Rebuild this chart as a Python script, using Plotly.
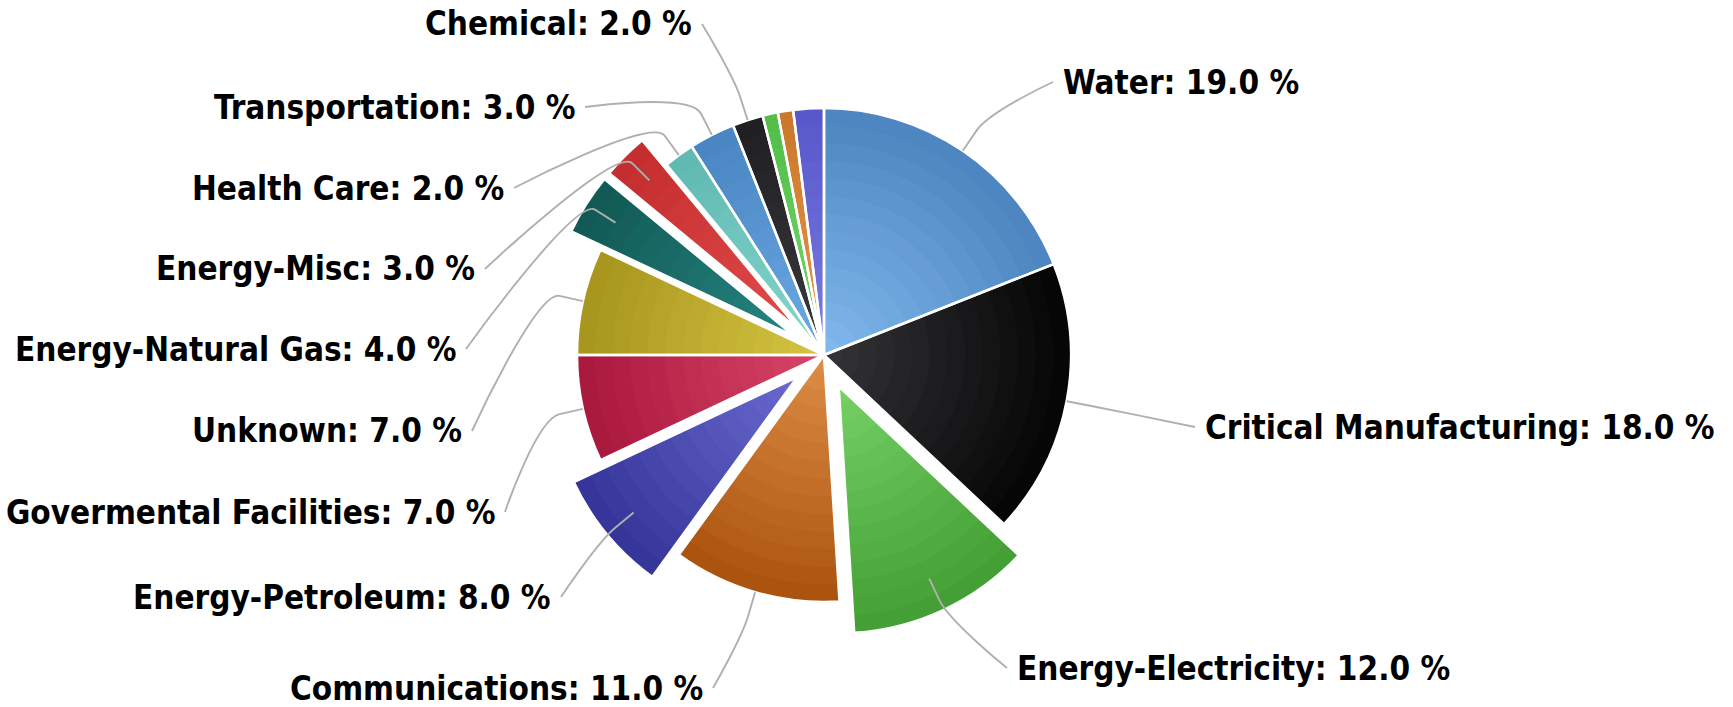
import math
import plotly.graph_objects as go

# ---- data -------------------------------------------------------------
sectors = [
    "Water", "Critical Manufacturing", "Energy-Electricity", "Communications",
    "Energy-Petroleum", "Govermental Facilities", "Unknown", "Energy-Natural Gas",
    "Energy-Misc", "Health Care", "Transportation", "Chemical",
    "Food and Agriculture", "Dams", "Information Technology",
]
shares = [19.0, 18.0, 12.0, 11.0, 8.0, 7.0, 7.0, 4.0, 3.0, 2.0, 3.0, 2.0, 1.0, 1.0, 2.0]
exploded = ["Energy-Electricity", "Energy-Petroleum", "Energy-Natural Gas", "Energy-Misc"]
labelled = sectors[:12]

# ---- styles -----------------------------------------------------------
inner_colors = ["#80b8ec", "#333337", "#74d064", "#dc8c44", "#6868ce", "#d84468",
                "#d4c440", "#248480", "#e04a4a", "#84d6ce", "#6caae4", "#3a3a3e",
                "#74da6c", "#ea9648", "#7a7ae2"]
outer_colors = ["#4d86c0", "#060606", "#44a034", "#ab5410", "#36369a", "#aa1a3e",
                "#a8961e", "#125a56", "#c42e2e", "#60bab2", "#4a86c2", "#202024",
                "#52be48", "#ca782c", "#5858ca"]

W, H = 1733, 707
CX, CY, R = 824, 355, 247          # pie centre and radius in pixels
PULL = 0.14                         # explode distance as a fraction of R
RINGS = 14                          # bands used for the radial shading

# label anchors: (x, y, side) — x is the text end on the left, text start on the right
label_pos = {
    "Water": (1061, 82, "right"),
    "Critical Manufacturing": (1203, 427, "right"),
    "Energy-Electricity": (1015, 668, "right"),
    "Communications": (705, 688, "left"),
    "Energy-Petroleum": (553, 597, "left"),
    "Govermental Facilities": (497, 512, "left"),
    "Unknown": (464, 431, "left"),
    "Energy-Natural Gas": (458, 349, "left"),
    "Energy-Misc": (477, 269, "left"),
    "Health Care": (506, 188, "left"),
    "Transportation": (577, 107, "left"),
    "Chemical": (694, 24, "left"),
}


def mix(c1, c2, t):
    a = [int(c1[i:i + 2], 16) for i in (1, 3, 5)]
    b = [int(c2[i:i + 2], 16) for i in (1, 3, 5)]
    return "#" + "".join(f"{round(a[i] + (b[i] - a[i]) * t):02x}" for i in range(3))


def px(x, y):
    return x / W, 1 - y / H


pulls = [PULL if s in exploded else 0 for s in sectors]
half = R * (1 + PULL)
domain = dict(x=[(CX - half) / W, (CX + half) / W],
              y=[1 - (CY + half) / H, 1 - (CY - half) / H])

fig = go.Figure()
common = dict(labels=sectors, values=shares, sort=False, direction="clockwise",
              rotation=0, pull=pulls, domain=domain, textinfo="none",
              hoverinfo="label+percent", showlegend=False)

# shaded bands, light near the centre and darker toward the rim
for k in range(RINGS):
    t = k / (RINGS - 1)
    fig.add_trace(go.Pie(
        hole=k / RINGS,
        marker=dict(colors=[mix(a, b, t) for a, b in zip(inner_colors, outer_colors)],
                    line=dict(width=0)),
        **common))

# white slice borders on top
fig.add_trace(go.Pie(
    marker=dict(colors=["rgba(0,0,0,0)"] * len(sectors), line=dict(color="white", width=2.5)),
    **common))

# ---- labels and connectors -------------------------------------------
total = sum(shares)
shapes, annotations = [], []
cum = 0.0
for name, v in zip(sectors, shares):
    mid = (cum + v / 2) / total * 2 * math.pi
    cum += v
    if name not in labelled:
        continue
    dx, dy = math.sin(mid), -math.cos(mid)
    ex, ey = CX + R * dx, CY + R * dy
    bx, by = CX + (R + 24) * dx, CY + (R + 24) * dy
    c2x, c2y = 2 * bx - ex, 2 * by - ey
    lx, ly, side = label_pos[name]
    sx = lx + 8 if side == "left" else lx - 8
    pts = [px(sx, ly), px(sx, ly), px(c2x, c2y), px(bx, by), px(ex, ey)]
    path = (f"M {pts[0][0]},{pts[0][1]} C {pts[1][0]},{pts[1][1]} "
            f"{pts[2][0]},{pts[2][1]} {pts[3][0]},{pts[3][1]} L {pts[4][0]},{pts[4][1]}")
    shapes.append(dict(type="path", xref="paper", yref="paper", path=path,
                       line=dict(color="#b0b0b0", width=1.9), layer="above"))
    ax, ay = px(lx, ly)
    annotations.append(dict(
        text=f"{name}: {v:.1f} %", x=ax, y=ay, xref="paper", yref="paper",
        xanchor="right" if side == "left" else "left", yanchor="middle",
        showarrow=False,
        font=dict(family="DejaVu Sans Condensed", size=33, color="#000000", weight="bold")))

fig.update_layout(
    width=W, height=H,
    margin=dict(l=0, r=0, t=0, b=0),
    paper_bgcolor="white", plot_bgcolor="white",
    shapes=shapes, annotations=annotations,
)

fig.write_html("out.html")
